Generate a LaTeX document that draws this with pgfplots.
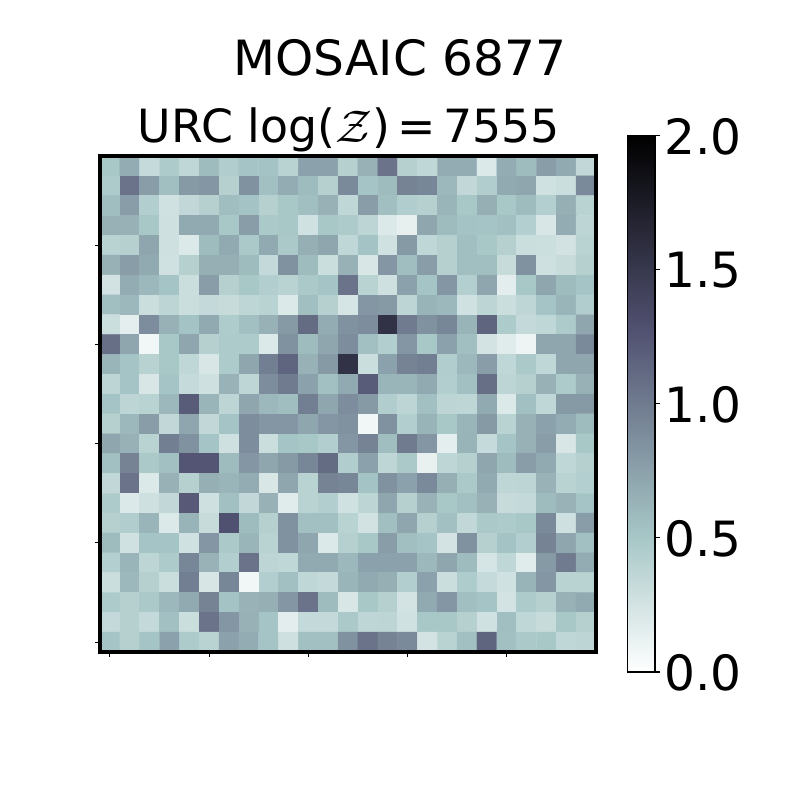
\documentclass[border=0pt]{standalone}
\usepackage{fix-cm}
\usepackage{fontspec}
\setmainfont{DejaVu Sans}
\usepackage{pgfplots}
\pgfplotsset{compat=1.18}

% bone_r, 0 to 2
\pgfplotsset{colormap={boner}{
  rgb(0pt)=(1,1,1);
  rgb(254pt)=(0.652778,0.777778,0.777778);
  rgb(635pt)=(0.319444,0.319444,0.444444);
  rgb(1000pt)=(0,0,0)}}

\newcommand{\bigfont}{\fontsize{48.6}{54}\selectfont}
\newcommand{\subfont}{\fontsize{45.8}{52}\selectfont}

\begin{document}
\begin{tikzpicture}[x=1pt,y=1pt]
\path[use as bounding box] (0,0) rectangle (800,800);
\begin{axis}[
  at={(100pt,148pt)}, anchor=south west,
  scale only axis, width=496pt, height=496pt,
  xmin=-0.5, xmax=24.5, ymin=-0.5, ymax=24.5,
  xtick={0,5,10,15,20}, ytick={0,5,10,15,20},
  xticklabels={}, yticklabels={},
  tick align=outside, xtick pos=bottom, ytick pos=left,
  major tick length=5pt, tick style={black, line width=1.1pt},
  axis line style={line width=4.2pt},
  axis on top,
  colormap name=boner,
  point meta min=0, point meta max=2,
]
\addplot[matrix plot*, mesh/cols=25, point meta=explicit]
  table[row sep=crcr, x index=0, y index=1, meta index=2, header=false] {
0 24 .50\\1 24 .68\\2 24 .33\\3 24 .47\\4 24 .36\\5 24 .58\\6 24 .45\\7 24 .52\\8 24 .53\\9 24 .40\\10 24 .75\\11 24 .75\\12 24 .42\\13 24 .65\\14 24 1.05\\15 24 .42\\16 24 .36\\17 24 .68\\18 24 .68\\19 24 .20\\20 24 .68\\21 24 .58\\22 24 .78\\23 24 .70\\24 24 .35\\
0 23 .47\\1 23 1.05\\2 23 .78\\3 23 .56\\4 23 .80\\5 23 .82\\6 23 .42\\7 23 .85\\8 23 .55\\9 23 .68\\10 23 .58\\11 23 .42\\12 23 .90\\13 23 .52\\14 23 .58\\15 23 .95\\16 23 .92\\17 23 .60\\18 23 .35\\19 23 .45\\20 23 .70\\21 23 .72\\22 23 .27\\23 23 .30\\24 23 .90\\
0 22 .57\\1 22 .78\\2 22 .44\\3 22 .27\\4 22 .35\\5 22 .42\\6 22 .57\\7 22 .53\\8 22 .42\\9 22 .50\\10 22 .56\\11 22 .65\\12 22 .36\\13 22 .78\\14 22 .56\\15 22 .45\\16 22 .42\\17 22 .62\\18 22 .50\\19 22 .66\\20 22 .50\\21 22 .58\\22 22 .43\\23 22 .66\\24 22 .40\\
0 21 .65\\1 21 .65\\2 21 .50\\3 21 .28\\4 21 .70\\5 21 .70\\6 21 .50\\7 21 .78\\8 21 .48\\9 21 .50\\10 21 .27\\11 21 .50\\12 21 .47\\13 21 .38\\14 21 .20\\15 21 .14\\16 21 .72\\17 21 .58\\18 21 .53\\19 21 .52\\20 21 .55\\21 21 .43\\22 21 .22\\23 21 .68\\24 21 .38\\
0 20 .40\\1 20 .42\\2 20 .72\\3 20 .28\\4 20 .20\\5 20 .58\\6 20 .70\\7 20 .48\\8 20 .70\\9 20 .48\\10 20 .66\\11 20 .72\\12 20 .36\\13 20 .53\\14 20 .27\\15 20 .80\\16 20 .36\\17 20 .42\\18 20 .56\\19 20 .50\\20 20 .42\\21 20 .30\\22 20 .29\\23 20 .26\\24 20 .40\\
0 19 .65\\1 19 .78\\2 19 .70\\3 19 .27\\4 19 .42\\5 19 .66\\6 19 .66\\7 19 .58\\8 19 .34\\9 19 .85\\10 19 .58\\11 19 .30\\12 19 .65\\13 19 .22\\14 19 .82\\15 19 .57\\16 19 .78\\17 19 .42\\18 19 .56\\19 19 .56\\20 19 .32\\21 19 .85\\22 19 .28\\23 19 .32\\24 19 .42\\
0 18 .26\\1 18 .68\\2 18 .60\\3 18 .52\\4 18 .30\\5 18 .78\\6 18 .42\\7 18 .50\\8 18 .44\\9 18 .40\\10 18 .48\\11 18 .52\\12 18 1.05\\13 18 .40\\14 18 .28\\15 18 .75\\16 18 .52\\17 18 .82\\18 18 .43\\19 18 .72\\20 18 .16\\21 18 .50\\22 18 .72\\23 18 .58\\24 18 .52\\
0 17 .56\\1 17 .60\\2 17 .30\\3 17 .38\\4 17 .30\\5 17 .34\\6 17 .32\\7 17 .37\\8 17 .40\\9 17 .20\\10 17 .56\\11 17 .42\\12 17 .24\\13 17 .82\\14 17 .80\\15 17 .38\\16 17 .63\\17 17 .60\\18 17 .27\\19 17 .38\\20 17 .30\\21 17 .37\\22 17 .52\\23 17 .62\\24 17 .45\\
0 16 .30\\1 16 .15\\2 16 .88\\3 16 .65\\4 16 .53\\5 16 .70\\6 16 .46\\7 16 .55\\8 16 .65\\9 16 .80\\10 16 1.10\\11 16 .68\\12 16 .85\\13 16 .88\\14 16 1.55\\15 16 1.00\\16 16 .85\\17 16 .92\\18 16 .63\\19 16 1.15\\20 16 .47\\21 16 .34\\22 16 .36\\23 16 .47\\24 16 .72\\
0 15 1.08\\1 15 .72\\2 15 .08\\3 15 .50\\4 15 .72\\5 15 .42\\6 15 .47\\7 15 .47\\8 15 .20\\9 15 .85\\10 15 .58\\11 15 .72\\12 15 .88\\13 15 .55\\14 15 .44\\15 15 .82\\16 15 .50\\17 15 .75\\18 15 .56\\19 15 .25\\20 15 .18\\21 15 .10\\22 15 .72\\23 15 .72\\24 15 .90\\
0 14 .62\\1 14 .52\\2 14 .41\\3 14 .50\\4 14 .36\\5 14 .22\\6 14 .47\\7 14 .72\\8 14 .98\\9 14 1.15\\10 14 .65\\11 14 .80\\12 14 1.55\\13 14 .30\\14 14 .75\\15 14 .95\\16 14 .98\\17 14 .45\\18 14 .60\\19 14 .78\\20 14 .36\\21 14 .48\\22 14 .36\\23 14 .72\\24 14 .72\\
0 13 .38\\1 13 .52\\2 13 .22\\3 13 .52\\4 13 .33\\5 13 .28\\6 13 .64\\7 13 .37\\8 13 .88\\9 13 1.00\\10 13 .75\\11 13 .55\\12 13 .70\\13 13 1.20\\14 13 .62\\15 13 .62\\16 13 .70\\17 13 .44\\18 13 .55\\19 13 1.08\\20 13 .38\\21 13 .42\\22 13 .65\\23 13 .47\\24 13 .65\\
0 12 .52\\1 12 .38\\2 12 .40\\3 12 .60\\4 12 1.20\\5 12 .62\\6 12 .38\\7 12 .72\\8 12 .60\\9 12 .57\\10 12 .98\\11 12 .72\\12 12 .88\\13 12 .80\\14 12 .45\\15 12 .38\\16 12 .55\\17 12 .38\\18 12 .37\\19 12 .70\\20 12 .20\\21 12 .55\\22 12 .36\\23 12 .80\\24 12 .80\\
0 11 .42\\1 11 .60\\2 11 .78\\3 11 .35\\4 11 .72\\5 11 .35\\6 11 .52\\7 11 .88\\8 11 .82\\9 11 .82\\10 11 .72\\11 11 .82\\12 11 .85\\13 11 .08\\14 11 .85\\15 11 .44\\16 11 .63\\17 11 .50\\18 11 .62\\19 11 .80\\20 11 .40\\21 11 .65\\22 11 .75\\23 11 .68\\24 11 .58\\
0 10 .72\\1 10 .65\\2 10 .40\\3 10 .98\\4 10 .85\\5 10 .52\\6 10 .28\\7 10 .88\\8 10 .30\\9 10 .52\\10 10 .50\\11 10 .44\\12 10 .82\\13 10 .95\\14 10 .57\\15 10 1.00\\16 10 .82\\17 10 .15\\18 10 .63\\19 10 .33\\20 10 .52\\21 10 .65\\22 10 .78\\23 10 .22\\24 10 .50\\
0 9 .55\\1 9 .95\\2 9 .48\\3 9 .55\\4 9 1.25\\5 9 1.25\\6 9 .58\\7 9 .82\\8 9 .72\\9 9 .80\\10 9 .92\\11 9 1.10\\12 9 .45\\13 9 .75\\14 9 .37\\15 9 .48\\16 9 .13\\17 9 .37\\18 9 .42\\19 9 .72\\20 9 .58\\21 9 .78\\22 9 .70\\23 9 .36\\24 9 .42\\
0 8 .35\\1 8 1.05\\2 8 .20\\3 8 .65\\4 8 .42\\5 8 .66\\6 8 .62\\7 8 .68\\8 8 .22\\9 8 .72\\10 8 .40\\11 8 .95\\12 8 .92\\13 8 .53\\14 8 .85\\15 8 .75\\16 8 .90\\17 8 .66\\18 8 .48\\19 8 .70\\20 8 .37\\21 8 .38\\22 8 .64\\23 8 .40\\24 8 .43\\
0 7 .47\\1 7 .20\\2 7 .28\\3 7 .35\\4 7 1.22\\5 7 .28\\6 7 .55\\7 7 .35\\8 7 .65\\9 7 .18\\10 7 .40\\11 7 .44\\12 7 .27\\13 7 .38\\14 7 .72\\15 7 .42\\16 7 .64\\17 7 .50\\18 7 .55\\19 7 .65\\20 7 .32\\21 7 .34\\22 7 .58\\23 7 .64\\24 7 .52\\
0 6 .42\\1 6 .45\\2 6 .62\\3 6 .20\\4 6 .63\\5 6 .32\\6 6 1.28\\7 6 .58\\8 6 .42\\9 6 .85\\10 6 .55\\11 6 .55\\12 6 .40\\13 6 .26\\14 6 .56\\15 6 .72\\16 6 .42\\17 6 .55\\18 6 .35\\19 6 .48\\20 6 .47\\21 6 .50\\22 6 .90\\23 6 .28\\24 6 .78\\
0 5 .58\\1 5 .27\\2 5 .52\\3 5 .52\\4 5 .27\\5 5 .82\\6 5 .48\\7 5 .62\\8 5 .40\\9 5 .85\\10 5 .72\\11 5 .20\\12 5 .42\\13 5 .50\\14 5 .78\\15 5 .56\\16 5 .52\\17 5 .25\\18 5 .85\\19 5 .42\\20 5 .53\\21 5 .44\\22 5 .95\\23 5 .72\\24 5 .55\\
0 4 .43\\1 4 .62\\2 4 .38\\3 4 .47\\4 4 .92\\5 4 .64\\6 4 .44\\7 4 1.05\\8 4 .38\\9 4 .36\\10 4 .70\\11 4 .70\\12 4 .60\\13 4 .75\\14 4 .75\\15 4 .75\\16 4 .60\\17 4 .72\\18 4 .58\\19 4 .24\\20 4 .36\\21 4 .18\\22 4 .80\\23 4 1.00\\24 4 .68\\
0 3 .30\\1 3 .60\\2 3 .42\\3 3 .30\\4 3 .98\\5 3 .23\\6 3 .92\\7 3 .08\\8 3 .44\\9 3 .55\\10 3 .36\\11 3 .34\\12 3 .62\\13 3 .70\\14 3 .66\\15 3 .44\\16 3 .75\\17 3 .30\\18 3 .46\\19 3 .33\\20 3 .27\\21 3 .63\\22 3 .82\\23 3 .40\\24 3 .40\\
0 2 .47\\1 2 .42\\2 2 .48\\3 2 .60\\4 2 .70\\5 2 .95\\6 2 .53\\7 2 .64\\8 2 .66\\9 2 .82\\10 2 1.05\\11 2 .58\\12 2 .22\\13 2 .50\\14 2 .42\\15 2 .25\\16 2 .70\\17 2 .82\\18 2 .56\\19 2 .52\\20 2 .25\\21 2 .47\\22 2 .42\\23 2 .65\\24 2 .70\\
0 1 .34\\1 1 .42\\2 1 .34\\3 1 .55\\4 1 .30\\5 1 1.05\\6 1 .82\\7 1 .65\\8 1 .52\\9 1 .16\\10 1 .34\\11 1 .34\\12 1 .48\\13 1 .37\\14 1 .38\\15 1 .27\\16 1 .50\\17 1 .50\\18 1 .42\\19 1 .27\\20 1 .56\\21 1 .36\\22 1 .32\\23 1 .50\\24 1 .42\\
0 0 .52\\1 0 .42\\2 0 .52\\3 0 .75\\4 0 .47\\5 0 .40\\6 0 .75\\7 0 .68\\8 0 .52\\9 0 .28\\10 0 .55\\11 0 .55\\12 0 .85\\13 0 1.05\\14 0 .95\\15 0 .90\\16 0 .25\\17 0 .40\\18 0 .55\\19 0 1.15\\20 0 .55\\21 0 .48\\22 0 .50\\23 0 .36\\24 0 .38\\
};
\end{axis}
\begin{axis}[
  at={(627.5pt,128pt)}, anchor=south west,
  scale only axis, width=27.5pt, height=536.5pt,
  xmin=0, xmax=1, ymin=0, ymax=2,
  xtick=\empty, ytick={0,0.5,1,1.5,2}, yticklabels={0.0,0.5,1.0,1.5,2.0},
  ytick pos=right, yticklabel pos=right,
  tick align=outside, major tick length=5pt,
  tick style={black, line width=1.1pt},
  axis line style={line width=1.1pt},
  yticklabel style={font=\bigfont, xshift=1pt, yshift=-1pt},
  axis on top,
  colormap name=boner,
  point meta min=0, point meta max=2,
]
\addplot[surf, shader=interp, mesh/cols=2, point meta=y] coordinates {
  (0,0) (1,0)
  (0,0.508) (1,0.508)
  (0,1.27) (1,1.27)
  (0,2) (1,2)
};
\end{axis}
\node[anchor=base, font=\bigfont] at (400,724) {MOSAIC 6877};
\node[anchor=base, font=\subfont] at (349,657) {URC log($\mathcal{Z}$)\,=\,7555};
\end{tikzpicture}
\end{document}
